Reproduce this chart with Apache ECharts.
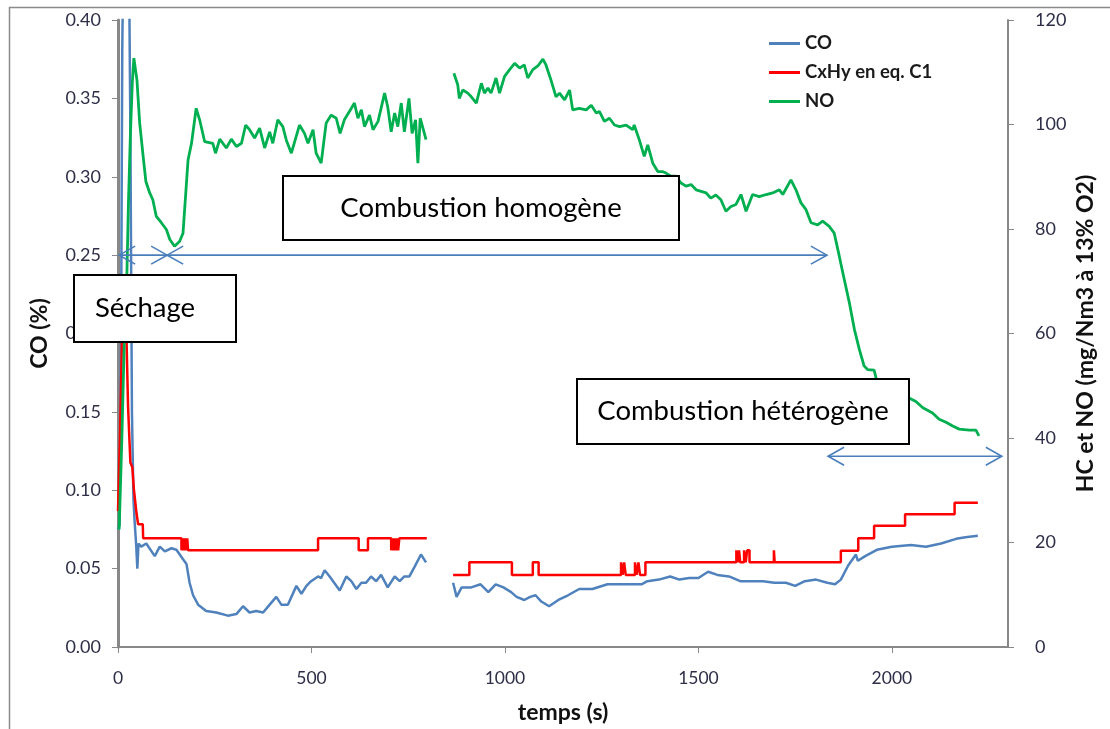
<!DOCTYPE html>
<html><head><meta charset="utf-8">
<script src="https://cdn.jsdelivr.net/npm/echarts@6/dist/echarts.min.js"></script>
<style>html,body{margin:0;padding:0;background:#fff}#c{width:1110px;height:729px}</style>
</head><body><div id="c"></div>
<script>
// ---- Data (time in s) ----
const coT = [
 0, 4, 8, 11, 14, 28, 32, 36, 40, 43,
 47, 50, 53, 60, 73, 95, 108, 121, 138, 151,
 168, 177, 185, 194, 207, 228, 254, 284, 306, 323,
 340, 357, 375, 392, 409, 422, 439, 461, 474, 487,
 499, 517, 525, 534, 547, 573, 590, 603, 616, 629,
 641, 654, 667, 680, 697, 715, 728, 740, 753, 766,
 783, 796, 830, 866, 875, 888, 913, 937, 957, 976,
 996, 1016, 1030, 1050, 1065, 1079, 1094, 1114, 1138, 1163,
 1192, 1226, 1265, 1314, 1353, 1368, 1398, 1427, 1451, 1476,
 1500, 1525, 1549, 1579, 1608, 1637, 1667, 1696, 1726, 1750,
 1775, 1804, 1833, 1853, 1868, 1887, 1907, 1912, 1931, 1961,
 2000, 2049, 2088, 2127, 2166, 2190, 2222];
const coV = [
 0.075, 0.078, 0.20, 0.38, 0.45, 0.45, 0.33, 0.15, 0.094, 0.080,
 0.065, 0.050, 0.066, 0.064, 0.066, 0.058, 0.064, 0.061, 0.063, 0.062,
 0.056, 0.053, 0.041, 0.033, 0.027, 0.023, 0.022, 0.020, 0.021, 0.026,
 0.022, 0.023, 0.022, 0.027, 0.032, 0.027, 0.027, 0.039, 0.034, 0.039,
 0.042, 0.045, 0.044, 0.049, 0.045, 0.036, 0.045, 0.042, 0.037, 0.041,
 0.041, 0.045, 0.042, 0.046, 0.038, 0.045, 0.042, 0.045, 0.045, 0.051,
 0.059, 0.054, null, 0.041, 0.032, 0.038, 0.038, 0.040, 0.035, 0.040,
 0.038, 0.035, 0.032, 0.030, 0.032, 0.033, 0.029, 0.026, 0.030, 0.033,
 0.037, 0.037, 0.040, 0.040, 0.040, 0.042, 0.043, 0.045, 0.043, 0.044,
 0.044, 0.048, 0.046, 0.045, 0.042, 0.042, 0.042, 0.041, 0.041, 0.039,
 0.042, 0.043, 0.041, 0.040, 0.043, 0.052, 0.059, 0.055, 0.058, 0.062,
 0.064, 0.065, 0.064, 0.066, 0.069, 0.070, 0.071];

const hcT = [
 0, 5, 10, 15, 20, 22, 26, 32, 37, 41,
 48, 52, 64, 65, 164, 164, 167, 167, 170, 170,
 173, 173, 176, 176, 179, 179, 181, 181, 517, 517,
 622, 622, 646, 646, 706, 706, 709, 709, 712, 712,
 715, 715, 718, 718, 721, 721, 724, 724, 727, 727,
 798, 830, 866, 908, 908, 1018, 1018, 1072, 1072, 1087,
 1087, 1300, 1300, 1304, 1304, 1308, 1308, 1312, 1312, 1336,
 1336, 1340, 1340, 1345, 1345, 1349, 1349, 1363, 1363, 1598,
 1598, 1602, 1602, 1605, 1605, 1608, 1608, 1618, 1618, 1622,
 1622, 1626, 1626, 1632, 1632, 1695, 1695, 1697, 1697, 1868,
 1868, 1913, 1913, 1954, 1954, 2034, 2034, 2162, 2162, 2222];
const hcV = [
 26, 40, 58, 68, 63, 58.9, 46, 35.3, 34.4, 30.2,
 25.5, 23.5, 23.5, 20.8, 20.8, 18.5, 18.5, 20.8, 20.8, 18.5,
 18.5, 20.8, 20.8, 18.5, 18.5, 20.8, 20.8, 18.5, 18.5, 20.8,
 20.8, 18.5, 18.5, 20.8, 20.8, 18.5, 18.5, 20.8, 20.8, 18.5,
 18.5, 20.8, 20.8, 18.5, 18.5, 20.8, 20.8, 18.5, 18.5, 20.8,
 20.8, null, 13.8, 13.8, 16.2, 16.2, 13.8, 13.8, 16.2, 16.2,
 13.8, 13.8, 16.2, 16.2, 13.8, 13.8, 16.2, 16.2, 13.8, 13.8,
 16.2, 16.2, 13.8, 13.8, 16.2, 16.2, 13.8, 13.8, 16.2, 16.2,
 18.5, 18.5, 16.2, 16.2, 18.5, 18.5, 16.2, 16.2, 18.5, 18.5,
 16.2, 16.2, 18.5, 18.5, 16.2, 16.2, 18.5, 18.5, 16.2, 16.2,
 18.4, 18.4, 20.8, 20.8, 23.2, 23.2, 25.4, 25.4, 27.6, 27.6];

const noT = [
 3, 10, 16, 22, 27, 32, 37, 41, 49, 56,
 65, 72, 82, 90, 99, 112, 125, 134, 146, 159,
 168, 181, 190, 202, 211, 224, 245, 252, 263, 280,
 293, 306, 319, 330, 340, 353, 366, 379, 392, 400,
 413, 426, 435, 448, 469, 482, 491, 504, 512, 525,
 538, 551, 564, 574, 585, 598, 611, 620, 629, 637,
 650, 659, 672, 689, 697, 706, 715, 723, 732, 740,
 752, 760, 769, 775, 781, 787, 796, 830, 868, 878,
 882, 891, 904, 913, 926, 939, 947, 956, 964, 977,
 986, 999, 1012, 1025, 1038, 1050, 1059, 1072, 1085, 1098,
 1106, 1119, 1132, 1141, 1154, 1167, 1175, 1192, 1210, 1223,
 1236, 1244, 1257, 1270, 1283, 1296, 1313, 1330, 1334, 1347,
 1360, 1369, 1382, 1395, 1407, 1416, 1429, 1442, 1455, 1468,
 1481, 1494, 1507, 1520, 1532, 1545, 1558, 1571, 1584, 1597,
 1610, 1623, 1640, 1657, 1675, 1692, 1709, 1718, 1739, 1752,
 1765, 1778, 1791, 1808, 1821, 1838, 1851, 1864, 1877, 1890,
 1903, 1916, 1928, 1937, 1954, 1960, 1990, 2020, 2043, 2062,
 2080, 2105, 2122, 2140, 2157, 2174, 2200, 2217, 2225];
const noV = [
 22.5, 40, 58, 68, 85, 98, 108, 112.7, 108.5, 100.3,
 93.9, 89.1, 86.9, 85.6, 82.4, 81.2, 79.9, 78.0, 76.7, 77.6,
 79.2, 93.2, 96.4, 103.1, 100.9, 96.7, 96.4, 94.5, 97.2, 95.5,
 97.2, 95.8, 96.4, 99.9, 99.0, 97.4, 99.3, 95.5, 98.6, 96.4,
 100.9, 99.6, 97.0, 94.5, 99.9, 98.3, 96.4, 99.0, 94.5, 92.6,
 100.3, 101.8, 101.2, 98.3, 100.9, 102.5, 104.1, 101.2, 102.8, 99.6,
 101.8, 99.0, 100.6, 106.0, 103.4, 98.6, 102.2, 99.6, 104.1, 98.6,
 105.0, 98.3, 100.9, 92.6, 101.2, 99.6, 97.1, null, 109.8, 107.6,
 105.0, 106.6, 106.0, 105.3, 104.1, 107.9, 106.0, 107.0, 106.0, 108.9,
 106.0, 109.2, 110.5, 111.7, 110.8, 111.4, 108.9, 110.5, 111.2, 112.5,
 111.4, 108.5, 105.3, 106.0, 104.7, 106.6, 102.8, 103.1, 102.8, 103.7,
 102.2, 102.5, 100.6, 101.2, 99.9, 99.6, 99.9, 99.0, 99.9, 97.1,
 93.9, 96.1, 92.6, 91.0, 91.0, 90.7, 90.1, 90.1, 88.8, 88.2,
 88.5, 87.5, 87.2, 86.9, 85.9, 86.5, 85.6, 83.4, 84.3, 84.7,
 86.6, 83.4, 86.6, 86.2, 86.6, 86.9, 87.5, 86.6, 89.4, 87.5,
 85.0, 83.7, 81.2, 80.8, 81.5, 80.5, 79.2, 74.8, 70.3, 65.9,
 60.8, 56.9, 53.8, 53.1, 53.0, 51.2, 50.0, 48.5, 47.7, 47.0,
 45.8, 44.8, 43.6, 43.0, 42.3, 41.7, 41.5, 41.5, 40.4];

const seriesNames = ['CO', 'CxHy en eq. C1', 'NO'];
const annotations = ['Séchage', 'Combustion homogène', 'Combustion hétérogène'];
// phase arrows: [tStart, tEnd, level, yAxisIndex]
const phaseArrows = [[3, 127, 0.25, 0], [127, 1832, 0.25, 0], [1835, 2284, 36.5, 1]];

function zip(t, v) { return t.map((x, i) => [x, v[i]]); }

const FONT = 'Lato';
const LABEL = '#2e2e48';
const AX = '#888888';
const TITLE = { fontFamily: FONT, fontWeight: 'bold', fontSize: 23, color: '#111' };
const chart = echarts.init(document.getElementById('c'));

chart.setOption({
  animation: false,
  backgroundColor: '#ffffff',
  grid: { left: 118, right: 102, top: 20, bottom: 81 },
  legend: {
    orient: 'vertical', left: 764, top: 29, itemWidth: 31, itemHeight: 3, itemGap: 10,
    icon: 'rect', data: seriesNames,
    textStyle: { fontFamily: FONT, fontWeight: 'bold', fontSize: 18.5, color: '#1a1a1a' }
  },
  xAxis: {
    type: 'value', min: 0, max: 2300, interval: 500,
    name: 'temps (s)', nameLocation: 'middle', nameGap: 54,
    nameTextStyle: TITLE,
    axisLine: { lineStyle: { color: AX, width: 2 } },
    axisTick: { length: 6, lineStyle: { color: AX } },
    axisLabel: { margin: 22, showMaxLabel: false, fontFamily: FONT, fontSize: 17.5, color: LABEL,
      formatter: v => String(v) },
    splitLine: { show: false }
  },
  yAxis: [{
    type: 'value', min: 0, max: 0.4, interval: 0.05, position: 'left',
    name: 'CO (%)', nameLocation: 'middle', nameGap: 67, nameRotate: 90,
    nameTextStyle: TITLE,
    axisLine: { show: true, lineStyle: { color: AX, width: 3 } },
    axisTick: { show: true, length: 6, lineStyle: { color: AX } },
    axisLabel: { margin: 17, fontFamily: FONT, fontSize: 18, color: LABEL, formatter: v => v.toFixed(2) },
    splitLine: { show: false }
  }, {
    type: 'value', min: 0, max: 120, interval: 20, position: 'right',
    name: 'HC et NO (mg/Nm3 à 13% O2)', nameLocation: 'middle', nameGap: 66, nameRotate: 90,
    nameMoveOverlap: false,
    nameTextStyle: TITLE,
    axisLine: { show: true, lineStyle: { color: AX, width: 2 } },
    axisTick: { show: true, length: 6, lineStyle: { color: AX } },
    axisLabel: { margin: 27, fontFamily: FONT, fontSize: 18, color: LABEL },
    splitLine: { show: false }
  }],
  series: [
    { name: seriesNames[0], type: 'line', yAxisIndex: 0, data: zip(coT, coV), showSymbol: false, symbol: 'none',
      lineStyle: { color: '#4f81bd', width: 2.5 }, itemStyle: { color: '#4f81bd' } },
    { name: seriesNames[1], type: 'line', yAxisIndex: 1, data: zip(hcT, hcV), showSymbol: false, symbol: 'none',
      lineStyle: { color: '#ff0000', width: 2.5 }, itemStyle: { color: '#ff0000' } },
    { name: seriesNames[2], type: 'line', yAxisIndex: 1, data: zip(noT, noV), showSymbol: false, symbol: 'none',
      lineStyle: { color: '#00b050', width: 2.8 }, itemStyle: { color: '#00b050' } }
  ]
});

// ---- Annotations ----
const ARW = '#4a7ebb';
function px(t, v, yi) { return chart.convertToPixel({ xAxisIndex: 0, yAxisIndex: yi }, [t, v]); }
const g = [];
// outer chart-area border
g.push({ type: 'rect', z: 100, shape: { x: 9.5, y: 7.5, width: 1300, height: 900 },
  style: { fill: 'none', stroke: '#8a8a8a', lineWidth: 1.5 } });
phaseArrows.forEach(a => {
  const p0 = px(a[0], a[2], a[3]), p1 = px(a[1], a[2], a[3]);
  const y = p0[1];
  g.push({ type: 'line', z: 100, shape: { x1: p0[0], y1: y, x2: p1[0], y2: y }, style: { stroke: ARW, lineWidth: 1.6 } });
  g.push({ type: 'polyline', z: 100, shape: { points: [[p0[0] + 16, y - 9], [p0[0], y], [p0[0] + 16, y + 9]] }, style: { stroke: ARW, lineWidth: 1.6, fill: 'none' } });
  g.push({ type: 'polyline', z: 100, shape: { points: [[p1[0] - 16, y - 9], [p1[0], y], [p1[0] - 16, y + 9]] }, style: { stroke: ARW, lineWidth: 1.6, fill: 'none' } });
});
const boxes = [
  { text: annotations[0], x: 74, y: 275, w: 162, h: 67, tx: 95, align: 'left' },
  { text: annotations[1], x: 283, y: 176, w: 396, h: 64, tx: 481, align: 'center' },
  { text: annotations[2], x: 577, y: 379, w: 332, h: 65, tx: 743, align: 'center' }
];
boxes.forEach(b => {
  g.push({ type: 'rect', z: 110, shape: { x: b.x, y: b.y, width: b.w, height: b.h },
    style: { fill: '#ffffff', stroke: '#000000', lineWidth: 2 } });
  g.push({ type: 'text', z: 111, x: b.tx, y: b.y + b.h / 2,
    style: { text: b.text, fill: '#000', font: '27.5px Lato', align: b.align, verticalAlign: 'middle',
      textAlign: b.align, textVerticalAlign: 'middle' } });
});
chart.setOption({ graphic: g });
</script></body></html>
